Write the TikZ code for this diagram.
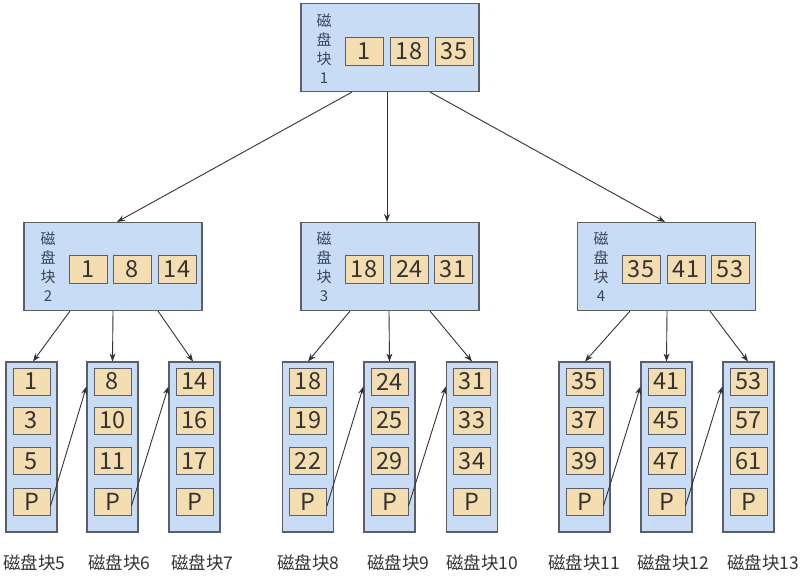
\documentclass[tikz,border=0pt]{standalone}
\usepackage{fontspec}
\setmainfont{Noto Sans CJK SC}
\usetikzlibrary{arrows.meta,calc}
\definecolor{boxblue}{HTML}{C8DCF6}
\definecolor{keyfill}{HTML}{F4DDB0}
\definecolor{edgegray}{HTML}{5A5E66}
\definecolor{txt}{HTML}{333333}
\definecolor{lbl}{HTML}{3A4556}
\begin{document}
\begin{tikzpicture}[x=1pt,y=-1pt,
  blk/.style={draw=edgegray,fill=boxblue,line width=1.1pt,inner sep=0pt,minimum width=178pt,minimum height=88pt},
  leafblk/.style={draw=edgegray,fill=boxblue,line width=1.1pt,inner sep=0pt,minimum width=51pt,minimum height=170pt},
  keybox/.style={draw=edgegray,fill=keyfill,line width=0.9pt,inner sep=0pt,minimum width=38pt,minimum height=28pt,text=txt,font=\fontsize{23.5}{23.5}\selectfont},
  vlabel/.style={align=center,text=lbl,inner sep=0pt,font=\fontsize{15}{19}\selectfont},
  blabel/.style={anchor=west,text=txt,inner sep=0pt,font=\fontsize{17.5}{18}\selectfont},
  arr/.style={draw=txt,line width=0.9pt,-{Stealth[length=8pt,width=6pt]}}]
\useasboundingbox (0,0) rectangle (806,578);
\fill[white] (0,0) rectangle (806,578);

% root
\node[blk] (root) at (390,47.5) {};
\node[vlabel] (rootlbl) at (324,49) {磁\\盘\\块\\1};
\node[keybox] (r1) at (364,51) {1};
\node[keybox] (r2) at (409,51) {18};
\node[keybox] (r3) at (454,51) {35};

% level 2
\node[blk] (b2) at (113,266.5) {};
\node[vlabel] (b2lbl) at (48,267) {磁\\盘\\块\\2};
\node[keybox] (b2k1) at (88,269) {1};
\node[keybox] (b2k2) at (132,269) {8};
\node[keybox] (b2k3) at (177,269) {14};

\node[blk] (b3) at (390,266.5) {};
\node[vlabel] (b3lbl) at (324,267) {磁\\盘\\块\\3};
\node[keybox] (b3k1) at (364,269) {18};
\node[keybox] (b3k2) at (409.5,269) {24};
\node[keybox] (b3k3) at (453,269) {31};

\node[blk] (b4) at (666.5,266.5) {};
\node[vlabel] (b4lbl) at (601,267) {磁\\盘\\块\\4};
\node[keybox] (b4k1) at (641,269) {35};
\node[keybox] (b4k2) at (686,269) {41};
\node[keybox] (b4k3) at (730,269) {53};

% leaves
\foreach \n/\x/\a/\b/\c/\lx in {5/31.5/1/3/5/3, 6/112.5/8/10/11/88, 7/194.5/14/16/17/171,
  8/308/18/19/22/277, 9/389.5/24/25/29/367, 10/472/31/33/34/446,
  11/584.5/35/37/39/548, 12/666.5/41/45/47/637, 13/748.5/53/57/61/727}{
  \node[leafblk] (leaf\n) at (\x,447) {};
  \node[keybox,minimum width=37pt,minimum height=27pt] (leaf\n a) at (\x,381.5) {\a};
  \node[keybox,minimum width=37pt,minimum height=27pt] (leaf\n b) at (\x,420.5) {\b};
  \node[keybox,minimum width=37pt,minimum height=27pt] (leaf\n c) at (\x,461) {\c};
  \node[keybox,minimum width=37pt,minimum height=27pt] (leaf\n p) at (\x,502) {P};
  \node[blabel] (lab\n) at (\lx,563) {磁盘块\n};
}

% root -> level 2
\draw[arr] ([xshift=-38pt]root.south) -- ([xshift=4pt]b2.north);
\draw[arr] ([xshift=-3pt]root.south) -- ([xshift=-3pt]b3.north);
\draw[arr] ([xshift=40pt]root.south) -- ([xshift=-1.5pt]b4.north);

% level 2 -> leaves
\draw[arr] ([xshift=-43pt]b2.south) -- ([xshift=1.5pt]leaf5.north);
\draw[arr] (b2.south) -- (leaf6.north);
\draw[arr] ([xshift=45pt]b2.south) -- ([xshift=-1.5pt]leaf7.north);
\draw[arr] ([xshift=-40pt]b3.south) -- (leaf8.north);
\draw[arr] ([xshift=-1pt]b3.south) -- (leaf9.north);
\draw[arr] ([xshift=40pt]b3.south) -- (leaf10.north);
\draw[arr] ([xshift=-36.5pt]b4.south) -- ([xshift=0.5pt]leaf11.north);
\draw[arr] ([xshift=0.5pt]b4.south) -- (leaf12.north);
\draw[arr] ([xshift=43.5pt]b4.south) -- ([xshift=-0.5pt]leaf13.north);

% leaf links
\foreach \i/\j in {5/6,6/7,8/9,9/10,11/12,12/13}{
  \draw[arr] ([yshift=-4pt]leaf\i p.east) -- ($(leaf\j.north west)+(0,25)$);
}
\end{tikzpicture}
\end{document}
